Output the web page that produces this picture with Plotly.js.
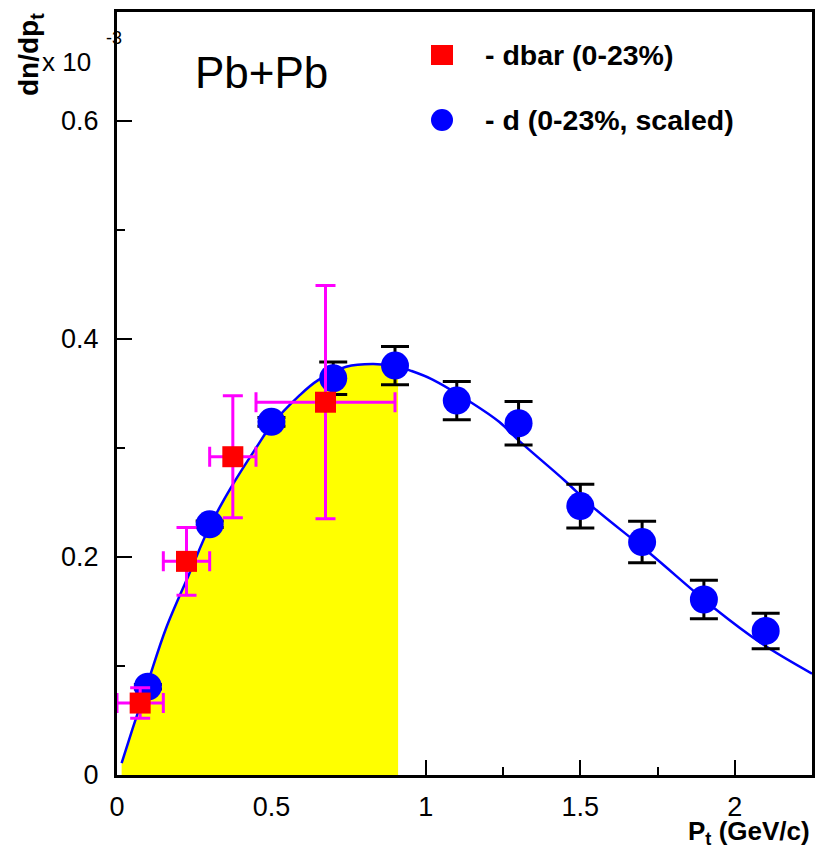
<!DOCTYPE html>
<html>
<head>
<meta charset="utf-8">
<script src="https://cdn.plot.ly/plotly-3.0.1.min.js"></script>
<style>html,body{margin:0;padding:0;background:#fff;}#chart{width:815px;height:848px;}</style>
</head>
<body>
<div id="chart"></div>
<script>
// deuteron (scaled), 0-23%
const dX   = [0.1, 0.3, 0.5, 0.7, 0.9, 1.1, 1.3, 1.5, 1.7, 1.9, 2.1];
const dY   = [0.081, 0.230, 0.324, 0.364, 0.3756, 0.3435, 0.3227, 0.2467, 0.2137, 0.161, 0.1322];
const dErr = [0.002, 0.003, 0.004, 0.015, 0.0175, 0.0175, 0.020, 0.020, 0.019, 0.0177, 0.0163];

// anti-deuteron, 0-23%
const dbarX    = [0.075, 0.225, 0.375, 0.675];
const dbarXErr = [0.075, 0.075, 0.075, 0.225];
const dbarY    = [0.066, 0.196, 0.292, 0.342];
const dbarYErr = [0.014, 0.031, 0.056, 0.107];

// fit curve
const fitX = [0.015, 0.05, 0.1, 0.158, 0.233, 0.3, 0.376, 0.45, 0.5, 0.59, 0.65, 0.742, 0.83, 0.91, 0.95, 1.02, 1.145, 1.237, 1.30, 1.45, 1.54, 1.72, 1.935, 2.087, 2.25];
const fitY = [0.011, 0.042, 0.085, 0.134, 0.184, 0.228, 0.267, 0.300, 0.321, 0.348, 0.362, 0.3745, 0.377, 0.3745, 0.371, 0.363, 0.342, 0.324, 0.307, 0.270, 0.246, 0.2046, 0.1527, 0.1206, 0.093];
const fillLimit = 0.91;

const xTicks = [0, 0.5, 1, 1.5, 2];
const xTickText = ['0', '0.5', '1', '1.5', '2'];
const yTicks = [0, 0.2, 0.4, 0.6];
const yTickText = ['0', '0.2', '0.4', '0.6'];

const fillX = fitX.filter(x => x <= fillLimit);
const fillY = fitY.slice(0, fillX.length);

const FONT = 'Liberation Sans, Arial, Helvetica, sans-serif';

const traces = [
  {x: fillX, y: fillY, type: 'scatter', mode: 'lines', fill: 'tozeroy',
   fillcolor: '#ffff00', line: {width: 0, shape: 'spline', color: '#ffff00'}, hoverinfo: 'skip'},
  {x: fitX, y: fitY, type: 'scatter', mode: 'lines',
   line: {color: '#0000ff', width: 2.5, shape: 'spline'}},
  {x: dX, y: dY, type: 'scatter', mode: 'markers',
   marker: {symbol: 'circle', size: 28, color: '#0000ff'},
   error_y: {type: 'data', array: dErr, visible: true, color: '#000000', thickness: 3, width: 14}},
  {x: dbarX, y: dbarY, type: 'scatter', mode: 'markers',
   marker: {symbol: 'square', size: 21, color: '#ff0000'},
   error_y: {type: 'data', array: dbarYErr, visible: true, color: '#ff00ff', thickness: 3, width: 10},
   error_x: {type: 'data', array: dbarXErr, visible: true, color: '#ff00ff', thickness: 3, width: 10}}
];

const px = p => (p - 117) / 695;
const py = p => (775 - p) / 763;

const layout = {
  width: 815, height: 848,
  margin: {l: 117, r: 3, t: 12, b: 73},
  paper_bgcolor: '#ffffff', plot_bgcolor: '#ffffff',
  showlegend: false,
  font: {family: FONT, color: '#000'},
  xaxis: {
    range: [0, 2.25], tickvals: xTicks, ticktext: xTickText,
    ticks: 'inside', ticklen: 15, tickwidth: 2, tickcolor: '#000',
    minor: {dtick: 0.25, ticks: 'inside', ticklen: 8, tickwidth: 2, tickcolor: '#000'},
    showline: true, linecolor: '#000', linewidth: 3, mirror: true,
    showgrid: false, zeroline: false, layer: 'below traces',
    tickfont: {size: 27, family: FONT}, ticklabelstandoff: 6
  },
  yaxis: {
    range: [0, 0.7], tickvals: yTicks, ticktext: yTickText,
    ticks: 'inside', ticklen: 15, tickwidth: 2, tickcolor: '#000',
    minor: {dtick: 0.1, ticks: 'inside', ticklen: 8, tickwidth: 2, tickcolor: '#000'},
    showline: true, linecolor: '#000', linewidth: 3, mirror: true,
    showgrid: false, zeroline: false, layer: 'below traces',
    tickfont: {size: 27, family: FONT}, ticklabelstandoff: 10
  },
  shapes: [
    {type: 'rect', xref: 'paper', yref: 'paper', x0: px(431), x1: px(453), y0: py(65), y1: py(45),
     fillcolor: '#ff0000', line: {width: 0}},
    {type: 'circle', xref: 'paper', yref: 'paper', x0: px(431), x1: px(453), y0: py(131), y1: py(109),
     fillcolor: '#0000ff', line: {width: 0}}
  ],
  annotations: [
    {text: 'Pb+Pb', xref: 'paper', yref: 'paper', x: px(261.5), y: py(72), xanchor: 'center', yanchor: 'middle',
     showarrow: false, font: {size: 44, family: FONT}},
    {text: '<b>- dbar (0-23%)</b>', xref: 'paper', yref: 'paper', x: px(483), y: py(55), xanchor: 'left', yanchor: 'middle',
     showarrow: false, font: {size: 28.5, family: FONT}},
    {text: '<b>- d (0-23%, scaled)</b>', xref: 'paper', yref: 'paper', x: px(483), y: py(120), xanchor: 'left', yanchor: 'middle',
     showarrow: false, font: {size: 28.5, family: FONT}},
    {text: '<b>dn/dp<sub>t</sub></b>', xref: 'paper', yref: 'paper', x: px(30), y: py(55), xanchor: 'center', yanchor: 'middle',
     textangle: -90, showarrow: false, font: {size: 28, family: FONT}},
    {text: 'x 10', xref: 'paper', yref: 'paper', x: px(66), y: py(62), xanchor: 'center', yanchor: 'middle',
     showarrow: false, font: {size: 26, family: FONT}},
    {text: '-3', xref: 'paper', yref: 'paper', x: px(114), y: py(38), xanchor: 'center', yanchor: 'middle',
     showarrow: false, font: {size: 18, family: FONT}},
    {text: '<b>P<sub>t</sub> (GeV/c)</b>', xref: 'paper', yref: 'paper', x: px(812), y: py(832), xanchor: 'right', yanchor: 'middle',
     showarrow: false, font: {size: 26, family: FONT}}
  ]
};

Plotly.newPlot('chart', traces, layout, {displayModeBar: false, staticPlot: true});
</script>
</body>
</html>
